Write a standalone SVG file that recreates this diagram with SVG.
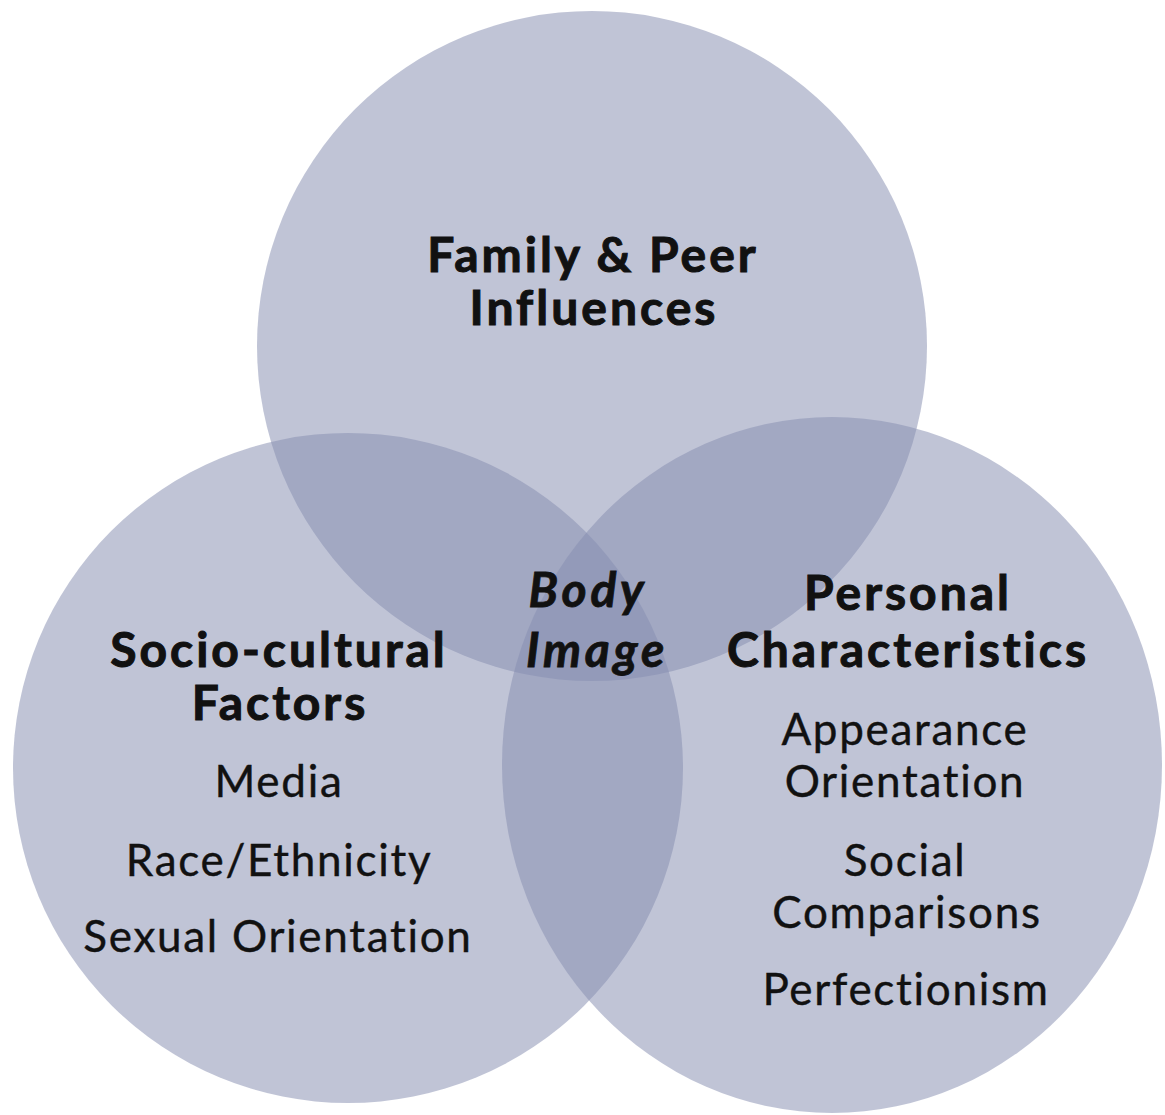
<svg xmlns="http://www.w3.org/2000/svg" width="1165" height="1115" viewBox="0 0 1165 1115">
  <style>
    .set { fill: #868eb1; fill-opacity: 0.52; }
    text { font-family: Lato, "Open Sans", "Liberation Sans", sans-serif; fill: #111; text-anchor: middle; }
    .head { font-weight: bold; font-size: 48px; letter-spacing: 3px; stroke: #111; stroke-width: 1px; }
    .item { font-size: 44px; letter-spacing: 1.7px; stroke: #111; stroke-width: 0.4px; }
    .center { font-weight: bold; font-style: italic; font-size: 48px; letter-spacing: 3.8px; stroke: #111; stroke-width: 0.8px; }
  </style>
  <rect width="1165" height="1115" fill="#ffffff"/>
  <g id="family-peer">
    <circle class="set" cx="592" cy="346" r="335"/>
  </g>
  <g id="socio-cultural">
    <circle class="set" cx="348" cy="768" r="335"/>
  </g>
  <g id="personal">
    <ellipse class="set" cx="832" cy="765" rx="330" ry="348"/>
  </g>
  <g id="labels">
    <text class="head" x="593" y="272">Family &amp; Peer</text>
    <text class="head" x="594" y="325">Influences</text>
    <text class="head" x="279" y="667">Socio-cultural</text>
    <text class="head" x="280" y="720">Factors</text>
    <text class="item" x="279" y="797">Media</text>
    <text class="item" x="279" y="876">Race/Ethnicity</text>
    <text class="item" x="278" y="952">Sexual Orientation</text>
    <text class="center" x="588" y="607">Body</text>
    <text class="center" x="597" y="667">Image</text>
    <text class="head" x="908" y="610">Personal</text>
    <text class="head" x="908" y="667">Characteristics</text>
    <text class="item" x="905" y="745">Appearance</text>
    <text class="item" x="905" y="797">Orientation</text>
    <text class="item" x="905" y="876">Social</text>
    <text class="item" x="907" y="928">Comparisons</text>
    <text class="item" x="906" y="1005">Perfectionism</text>
  </g>
</svg>
